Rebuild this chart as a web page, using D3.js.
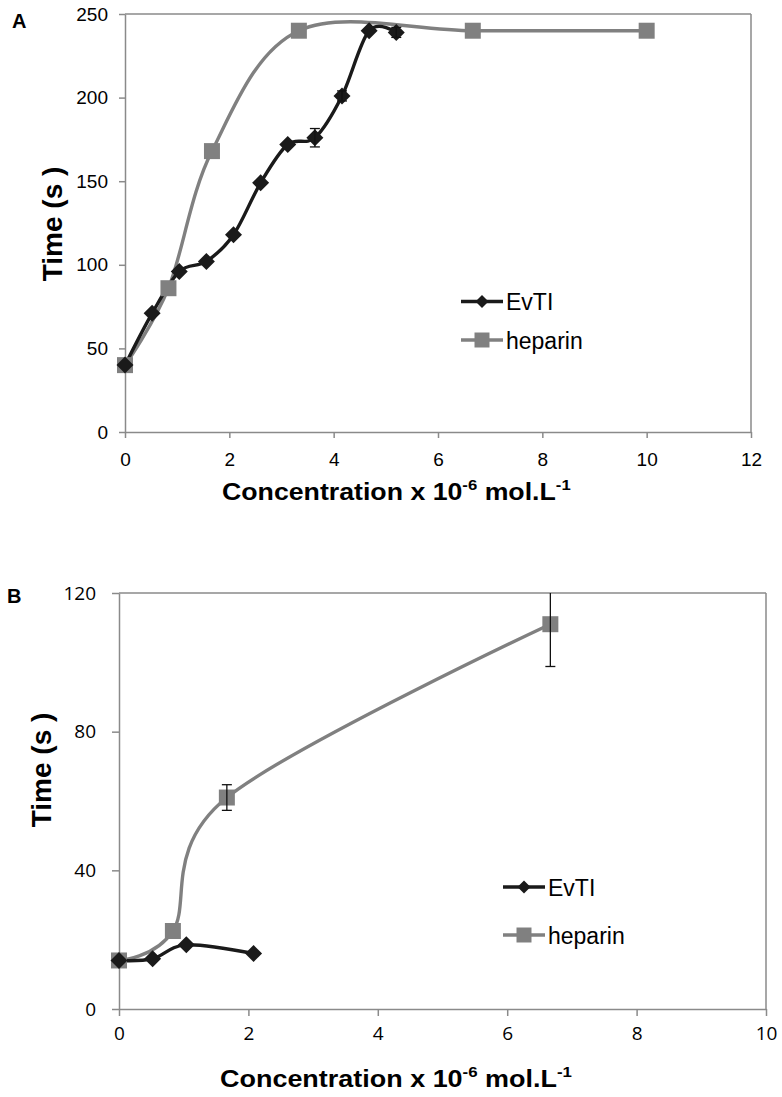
<!DOCTYPE html>
<html>
<head>
<meta charset="utf-8">
<script src="https://cdn.jsdelivr.net/npm/d3@7"></script>
<style>
  html, body { margin: 0; padding: 0; background: #fff; }
  svg { display: block; }
</style>
</head>
<body>
<svg id="chart" width="782" height="1097"></svg>
<script>
// ---------- DATA ----------
const seriesNames = ["EvTI", "heparin"];

// Panel A
const xTicksA = [0, 2, 4, 6, 8, 10, 12];
const yTicksA = [0, 50, 100, 150, 200, 250];
const evtiA_x = [0, 0.52, 1.04, 1.56, 2.08, 2.6, 3.12, 3.64, 4.16, 4.68, 5.2];
const evtiA_y = [40, 71, 96, 102, 118, 149, 172, 176, 201, 240, 239];
const evtiA_err = [0, 0, 0, 0, 0, 0, 0, 5.5, 3, 0, 3];
const heparinA_x = [0, 0.833, 1.667, 3.333, 6.667, 10];
const heparinA_y = [40, 86, 168, 240, 240, 240];
const heparinA_err = [0, 0, 0, 0, 0, 0];

// Panel B
const xTicksB = [0, 2, 4, 6, 8, 10];
const yTicksB = [0, 40, 80, 120];
const evtiB_x = [0, 0.52, 1.04, 2.08];
const evtiB_y = [14, 14.5, 18.5, 16];
const evtiB_err = [0, 0, 0, 0];
const heparinB_x = [0, 0.833, 1.667, 6.667];
const heparinB_y = [14, 22.5, 61, 111];
const heparinB_err = [0, 0, 3.7, 12.2];

// ---------- DRAW ----------
const svg = d3.select("#chart");
const C_EVTI = "#1a1a1a";
const C_HEP = "#808080";
const C_AXIS = "#8a8a8a";

function zip(xs, ys, es) { return xs.map((x, i) => ({x, y: ys[i], e: es[i]})); }

function diamondPath(r) { return `M0,${-r}L${r},0L0,${r}L${-r},0Z`; }
function squarePath(h) { return `M${-h},${-h}H${h}V${h}H${-h}Z`; }

function drawPanel(cfg) {
  const g = svg.append("g");
  const x = d3.scaleLinear().domain(cfg.xDomain).range([cfg.left, cfg.right]);
  const y = d3.scaleLinear().domain(cfg.yDomain).range([cfg.bottom, cfg.top]);

  const clipId = "clip" + cfg.name;
  svg.append("clipPath").attr("id", clipId).append("rect")
    .attr("x", cfg.left - 12).attr("y", cfg.top).attr("width", cfg.right - cfg.left + 24).attr("height", cfg.bottom - cfg.top + 12);

  // frame (top/right)
  g.append("line").attr("x1", cfg.left).attr("x2", cfg.right).attr("y1", cfg.top).attr("y2", cfg.top)
    .attr("stroke", C_AXIS).attr("stroke-width", 1.5);
  g.append("line").attr("x1", cfg.right).attr("x2", cfg.right).attr("y1", cfg.top).attr("y2", cfg.bottom)
    .attr("stroke", C_AXIS).attr("stroke-width", 1.5);

  // axes
  const xAxis = d3.axisBottom(x).tickValues(cfg.xTicks).tickSize(cfg.tickLen).tickSizeOuter(0).tickPadding(cfg.xPad);
  const yAxis = d3.axisLeft(y).tickValues(cfg.yTicks).tickSize(cfg.tickLen).tickSizeOuter(0).tickPadding(cfg.yPad);
  const gx = g.append("g").attr("transform", `translate(0,${cfg.bottom})`).call(xAxis);
  const gy = g.append("g").attr("transform", `translate(${cfg.left},0)`).call(yAxis);
  [gx, gy].forEach(a => {
    a.selectAll("path.domain").attr("stroke", C_AXIS).attr("stroke-width", 1.5);
    a.selectAll(".tick line").attr("stroke", C_AXIS).attr("stroke-width", 1.5);
    a.selectAll(".tick text").attr("fill", "#000").style("font-family", cfg.tickFont).style("font-size", cfg.tickSize + "px");
  });

  const line = d3.line().x(d => x(d.x)).y(d => y(d.y)).curve(d3.curveCardinal.tension(0));

  const series = [
    {data: zip(cfg.evtiX, cfg.evtiY, cfg.evtiE), color: C_EVTI, marker: "diamond"},
    {data: zip(cfg.hepX, cfg.hepY, cfg.hepE), color: C_HEP, marker: "square"}
  ];
  const plot = g.append("g").attr("clip-path", `url(#${clipId})`);

  [series[1], series[0]].forEach(s => {
    plot.append("path").datum(s.data).attr("d", line)
      .attr("fill", "none").attr("stroke", s.color).attr("stroke-width", 3.4).attr("stroke-linejoin", "round");
  });
  [series[1], series[0]].forEach(s => {
    plot.selectAll(null).data(s.data).enter().append("path")
      .attr("transform", d => `translate(${x(d.x)},${y(d.y)})`)
      .attr("d", s.marker === "diamond" ? diamondPath(cfg.dR) : squarePath(cfg.sH))
      .attr("fill", s.color);
    const eb = plot.selectAll(null).data(s.data.filter(d => d.e > 0)).enter().append("g")
      .attr("stroke", "#111").attr("stroke-width", 1.3);
    eb.append("line").attr("x1", d => x(d.x)).attr("x2", d => x(d.x))
      .attr("y1", d => y(d.y + d.e)).attr("y2", d => y(d.y - d.e));
    eb.append("line").attr("x1", d => x(d.x) - 5).attr("x2", d => x(d.x) + 5)
      .attr("y1", d => y(d.y + d.e)).attr("y2", d => y(d.y + d.e));
    eb.append("line").attr("x1", d => x(d.x) - 5).attr("x2", d => x(d.x) + 5)
      .attr("y1", d => y(d.y - d.e)).attr("y2", d => y(d.y - d.e));
  });

  // legend
  const lg = g.append("g");
  series.forEach((s, i) => {
    const ly = cfg.legY[i];
    lg.append("line").attr("x1", cfg.legX).attr("x2", cfg.legX + 42).attr("y1", ly).attr("y2", ly)
      .attr("stroke", s.color).attr("stroke-width", 3.4);
    lg.append("path").attr("transform", `translate(${cfg.legX + 21},${ly})`)
      .attr("d", s.marker === "diamond" ? diamondPath(6.5) : squarePath(7.5)).attr("fill", s.color);
    lg.append("text").attr("x", cfg.legX + 45).attr("y", ly + 8.5)
      .style("font-family", "'Liberation Sans', Arial, sans-serif").style("font-size", "23px").attr("fill", "#000")
      .text(seriesNames[i]);
  });

  // panel letter
  g.append("text").attr("x", cfg.letterX).attr("y", cfg.letterY)
    .style("font-family", "'Liberation Sans', Arial, sans-serif").style("font-weight", "bold").style("font-size", "20px")
    .text(cfg.name);

  // y title
  g.append("text").attr("transform", `translate(${cfg.yTitleX},${cfg.yTitleY}) rotate(-90)`)
    .attr("text-anchor", "middle")
    .style("font-family", "'Liberation Sans', Arial, sans-serif").style("font-weight", "bold").style("font-size", "28px")
    .text("Time (s )");

  // x title (condensed bold)
  const t = g.append("text").attr("x", 0).attr("y", 0)
    .style("font-family", "'Liberation Sans', Arial, sans-serif").style("font-weight", "bold").style("font-size", "24px");
  t.append("tspan").text("Concentration x 10");
  t.append("tspan").attr("dy", -10).style("font-size", "15px").text("-6");
  t.append("tspan").attr("dy", 10).text(" mol.L");
  t.append("tspan").attr("dy", -10).style("font-size", "15px").text("-1");
  const w = t.node().getComputedTextLength();
  const k = (cfg.xTitleX1 - cfg.xTitleX0) / w;
  t.attr("transform", `translate(${cfg.xTitleX0},${cfg.xTitleY}) scale(${k},1)`);
}

drawPanel({
  name: "A", left: 125, right: 751, top: 14, bottom: 432,
  xDomain: [0, 12], yDomain: [0, 250], xTicks: xTicksA, yTicks: yTicksA,
  tickLen: 6, xPad: 15, yPad: 11,
  tickFont: "'Liberation Sans', Arial, sans-serif", tickSize: 19,
  evtiX: evtiA_x, evtiY: evtiA_y, evtiE: evtiA_err,
  hepX: heparinA_x, hepY: heparinA_y, hepE: heparinA_err,
  dR: 8.5, sH: 8,
  legX: 461, legY: [301.5, 340],
  letterX: 12, letterY: 28,
  yTitleX: 62, yTitleY: 224,
  xTitleX0: 222, xTitleX1: 571, xTitleY: 500
});

drawPanel({
  name: "B", left: 119, right: 766, top: 593, bottom: 1009,
  xDomain: [0, 10], yDomain: [0, 120], xTicks: xTicksB, yTicks: yTicksB,
  tickLen: 7, xPad: 11, yPad: 16,
  tickFont: "'Open Sans', 'Noto Sans', sans-serif", tickSize: 19,
  evtiX: evtiB_x, evtiY: evtiB_y, evtiE: evtiB_err,
  hepX: heparinB_x, hepY: heparinB_y, hepE: heparinB_err,
  dR: 8.5, sH: 8,
  legX: 503, legY: [887, 935],
  letterX: 7, letterY: 603,
  yTitleX: 51, yTitleY: 770,
  xTitleX0: 220, xTitleX1: 572, xTitleY: 1087
});
</script>
</body>
</html>
